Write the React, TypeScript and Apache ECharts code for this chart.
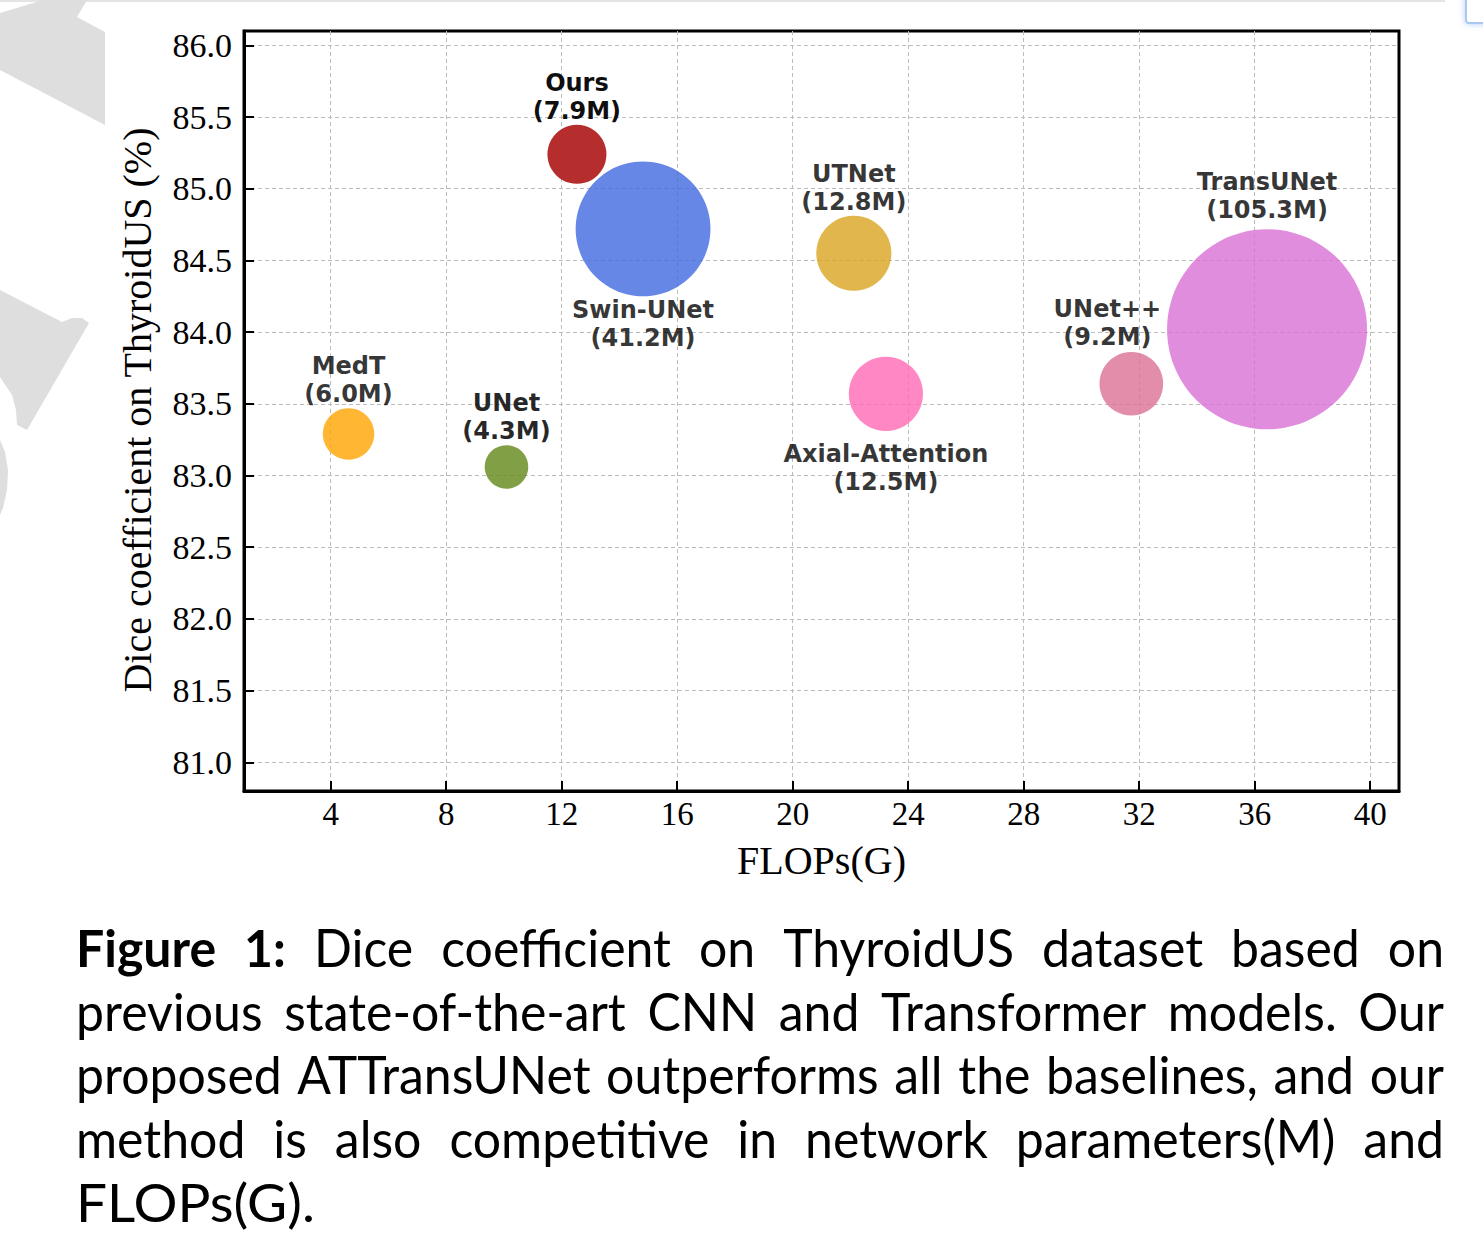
import React, { useEffect, useRef } from "react";
import * as echarts from "echarts";

// ---------- data ----------
const models = ["Ours", "Swin-UNet", "UTNet", "Axial-Attention", "UNet++", "TransUNet", "MedT", "UNet"];
const flopsG = [12.53, 14.82, 22.12, 23.23, 31.73, 36.43, 4.62, 10.09];
const diceScore = [85.24, 84.72, 84.55, 83.57, 83.64, 84.02, 83.29, 83.06];
const paramsM = [7.9, 41.2, 12.8, 12.5, 9.2, 105.3, 6.0, 4.3];
const xTickValues = [4, 8, 12, 16, 20, 24, 28, 32, 36, 40];
const yTickValues = [81.0, 81.5, 82.0, 82.5, 83.0, 83.5, 84.0, 84.5, 85.0, 85.5, 86.0];

const captionLines = [
  "Figure 1: Dice coefficient on ThyroidUS dataset based on",
  "previous state-of-the-art CNN and Transformer models. Our",
  "proposed ATTransUNet outperforms all the baselines, and our",
  "method is also competitive in network parameters(M) and",
  "FLOPs(G).",
];
const captionBoldWords = 2; // "Figure" and "1:"

// ---------- styles ----------
const bubbleColors: Record<string, string> = {
  Ours: "#b22222",
  "Swin-UNet": "#4169e1",
  UTNet: "#daa520",
  "Axial-Attention": "#ff69b4",
  "UNet++": "#db7093",
  TransUNet: "#da70d6",
  MedT: "#ffa500",
  UNet: "#6b8e23",
};
const bubbleOpacity: Record<string, number> = { Ours: 0.95, UNet: 0.85 };
const labelBelow = new Set(["Swin-UNet", "Axial-Attention"]);
const labelOffset: Record<string, number[]> = { "UNet++": [-24, 0] };
const labelDistance: Record<string, number> = { "Axial-Attention": 9, TransUNet: 5, "UNet++": 1 };

const SERIF = "'Liberation Serif', 'Times New Roman', serif";
const SANS_BOLD = "'DejaVu Sans', sans-serif";
const CAPTION_FONT = "Lato, 'Noto Sans', sans-serif";

function buildCaption(): any[] {
  const FS = 52;
  const LEFT = 76;
  const RIGHT = 1444;
  const W = RIGHT - LEFT;
  const y0 = 947;
  const dy = 63.75;
  const ctx = document.createElement("canvas").getContext("2d")!;
  const measure = (t: string, bold: boolean) => {
    ctx.font = `${bold ? "bold " : ""}${FS}px ${CAPTION_FONT}`;
    return ctx.measureText(t).width;
  };
  const lines = captionLines.map((line, li) => {
    const words = line.split(" ");
    return words.map((w, wi) => {
      const bold = li === 0 && wi < captionBoldWords;
      return { w, bold, width: measure(w, bold) };
    });
  });
  let globalSx = 1;
  lines.forEach((ws, li) => {
    if (li === lines.length - 1) return;
    const raw = ws.reduce((a, b) => a + b.width, 0);
    globalSx = Math.min(globalSx, (W - (ws.length - 1) * 0.3 * FS) / raw);
  });
  const spaceW = measure(" ", false);
  const out: any[] = [];
  lines.forEach((ws, li) => {
    const last = li === lines.length - 1;
    const raw = ws.reduce((a, b) => a + b.width, 0);
    const sx = last ? globalSx * 1.1 : globalSx;
    const sum = raw * sx;
    const gap = last ? spaceW * sx : (W - sum) / (ws.length - 1);
    let x = LEFT;
    ws.forEach((wd) => {
      out.push({
        type: "text",
        x,
        y: y0 + li * dy,
        scaleX: sx,
        silent: true,
        style: {
          text: wd.w,
          fill: "#000",
          font: `${wd.bold ? "bold " : ""}${FS}px ${CAPTION_FONT}`,
          align: "left",
          verticalAlign: "middle",
        },
      });
      x += wd.width * sx + gap;
    });
  });
  return out;
}

function buildDecor(): any[] {
  const gray = "#dedede";
  return [
    { type: "rect", shape: { x: 0, y: 0, width: 1445, height: 2 }, style: { fill: "#e4e4e4" }, silent: true },
    {
      type: "rect",
      shape: { x: 1466, y: -6, width: 30, height: 29, r: 3 },
      style: { fill: "#fff", stroke: "#a9c9f3", lineWidth: 2, shadowBlur: 6, shadowColor: "rgba(80,140,230,0.45)" },
      silent: true,
    },
    {
      type: "polygon",
      shape: { points: [[43, 0], [87, 0], [77, 17], [105, 32], [105, 125], [0, 70], [0, 13]] },
      style: { fill: gray },
      silent: true,
    },
    {
      type: "polygon",
      shape: {
        points: [[0, 290], [62, 322], [72, 318], [82, 318], [89, 323], [27, 430], [17, 425], [16, 410], [12, 395], [0, 377]],
      },
      style: { fill: gray },
      silent: true,
    },
    {
      type: "polygon",
      shape: { points: [[0, 440], [5, 452], [8, 470], [7, 490], [3, 508], [0, 515]] },
      style: { fill: gray },
      silent: true,
    },
    {
      type: "text",
      x: 137,
      y: 410,
      rotation: Math.PI / 2,
      silent: true,
      style: {
        text: "Dice coefficient on ThyroidUS (%)",
        fill: "#000",
        font: `40px ${SERIF}`,
        align: "center",
        verticalAlign: "middle",
      },
    },
  ];
}

export default function App() {
  const ref = useRef<HTMLDivElement>(null);
  useEffect(() => {
    document.body.style.margin = "0";
    const chart = echarts.init(ref.current!, null, { renderer: "svg" });
    const data = models.map((m, i) => {
      const below = labelBelow.has(m);
      return {
        name: m,
        value: [flopsG[i], diceScore[i], paramsM[i]],
        symbolSize: Math.min(200, 21 * Math.sqrt(paramsM[i])),
        itemStyle: { color: bubbleColors[m], opacity: bubbleOpacity[m] ?? 0.8 },
        label: {
          show: true,
          position: below ? "bottom" : "top",
          distance: labelDistance[m] ?? 0,
          offset: labelOffset[m] ?? [0, 0],
        },
      };
    });
    const axisCommon = {
      type: "value",
      axisLine: { show: true, lineStyle: { color: "#000", width: 3 } },
      splitLine: { show: true, lineStyle: { color: "#bcbcbc", width: 1, type: [4, 3] } },
    };
    chart.setOption({
      animation: false,
      backgroundColor: "#fff",
      graphic: [...buildDecor(), ...buildCaption()],
      grid: {
        left: 244,
        top: 31,
        width: 1155,
        height: 760,
        show: true,
        borderColor: "#000",
        borderWidth: 3,
        backgroundColor: "transparent",
      },
      xAxis: {
        ...axisCommon,
        min: 1,
        max: 41,
        name: "FLOPs(G)",
        nameLocation: "middle",
        nameGap: 49,
        nameTextStyle: { fontFamily: SERIF, fontSize: 40, color: "#000" },
        axisTick: { show: true, inside: true, length: 10, lineStyle: { color: "#000", width: 2 }, customValues: xTickValues },
        axisLabel: { customValues: xTickValues, fontFamily: SERIF, fontSize: 33, color: "#000", margin: 6 },
      },
      yAxis: {
        ...axisCommon,
        min: 80.8,
        max: 86.1,
        axisTick: { show: true, inside: true, length: 10, lineStyle: { color: "#000", width: 2 }, customValues: yTickValues },
        axisLabel: {
          customValues: yTickValues,
          fontFamily: SERIF,
          fontSize: 34,
          color: "#000",
          margin: 12,
          formatter: (v: number) => v.toFixed(1),
        },
      },
      series: [
        {
          type: "scatter",
          data,
          label: {
            show: true,
            formatter: (p: any) => `${p.name}\n(${p.value[2].toFixed(1)}M)`,
            fontFamily: SANS_BOLD,
            fontWeight: "bold",
            fontSize: 24,
            lineHeight: 28,
            color: "#000",
            align: "center",
          },
          emphasis: { disabled: true },
        },
      ],
    });
    return () => chart.dispose();
  }, []);
  return <div ref={ref} style={{ width: 1483, height: 1240 }} />;
}
